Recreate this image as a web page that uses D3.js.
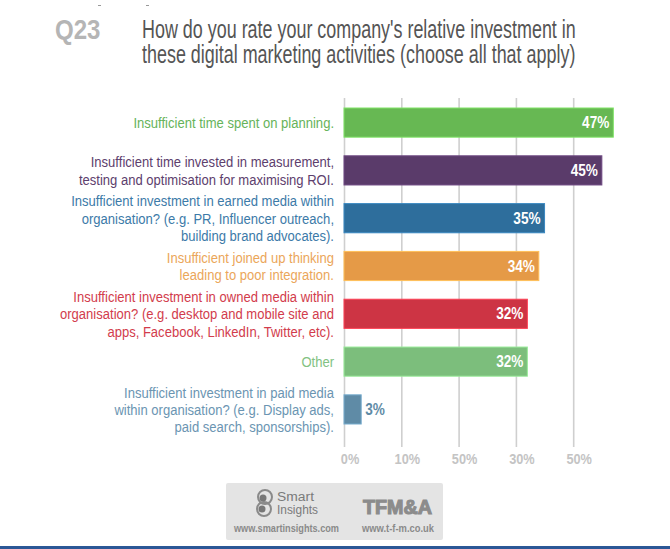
<!DOCTYPE html>
<html><head><meta charset="utf-8">
<script src="https://cdn.jsdelivr.net/npm/d3@7"></script>
<style>
html,body{margin:0;padding:0;background:#fff;}
svg{display:block;}
</style></head>
<body>
<svg id="chart" width="670" height="549"></svg>
<script>
// ---- data ----
const categories = [
  ["Insufficient time spent on planning."],
  ["Insufficient time invested in measurement,", "testing and optimisation for maximising ROI."],
  ["Insufficient investment in earned media within", "organisation? (e.g. PR, Influencer  outreach,", "building brand advocates)."],
  ["Insufficient joined up thinking", "leading to poor integration."],
  ["Insufficient investment in owned media within", "organisation? (e.g. desktop and mobile site and", "apps, Facebook, LinkedIn, Twitter, etc)."],
  ["Other"],
  ["Insufficient investment in paid media", "within organisation? (e.g. Display ads,", "paid search, sponsorships)."]
];
const values = [47, 45, 35, 34, 32, 32, 3];
const barColors = ["#67b853", "#5a3b6a", "#2e6e9c", "#e59a47", "#cd3444", "#7cbe7c", "#5f8ba6"];
const labelColors = ["#66b35a", "#5d406d", "#3c7aa8", "#eba65a", "#d23c4c", "#82c282", "#6b95b2"];
const tickValues = [0, 10, 20, 30, 40];
const tickLabels = ["0%", "10%", "50%", "30%", "50%"];
const title = ["How do you rate your company's relative investment in", "these digital marketing activities (choose all that apply)"];
const qLabel = "Q23";

// ---- drawing ----
const FONT = "'Liberation Sans',Arial,Helvetica,sans-serif";
const svg = d3.select("#chart");

const x = d3.scaleLinear().domain([0, 50]).range([344, 630.5]);
const y = d3.scaleBand().domain(d3.range(values.length)).range([108, 424]).paddingInner(0.39).paddingOuter(0);

// tiny top marks
svg.append("g").selectAll("line").data([98, 146]).join("line")
  .attr("x1", d => d).attr("x2", d => d + 3).attr("y1", 5.5).attr("y2", 5.5)
  .attr("stroke", "#999").attr("stroke-width", 1);

// title
svg.append("g").attr("transform", "translate(55,39) scale(0.86,1)")
  .append("text").attr("font-family", FONT).attr("font-weight", "bold").attr("font-size", 28)
  .attr("fill", "#b5b5b5").text(qLabel);
svg.append("g").attr("transform", "translate(142,0) scale(0.717,1)")
  .append("text").attr("font-family", FONT).attr("font-size", 25).attr("fill", "#555")
  .selectAll("tspan").data(title).join("tspan")
  .attr("x", 0).attr("y", (d, i) => 38 + i * 25).text(d => d);

// gridlines + axis
const axis = d3.axisBottom(x).tickValues(tickValues).tickFormat((d, i) => tickLabels[i]).tickSize(0).tickPadding(0);
const ag = svg.append("g").attr("transform", "translate(0,447)").call(axis);
ag.select(".domain").remove();
ag.selectAll(".tick line").attr("y1", -349).attr("y2", 0).attr("stroke", "#cfcfcf").attr("stroke-width", 1.6);
ag.selectAll(".tick text").remove();
ag.selectAll(".tick").append("g").attr("transform", "translate(5.5,17) scale(0.85,1)")
  .append("text").attr("text-anchor", "middle")
  .attr("font-family", FONT).attr("font-weight", "bold").attr("font-size", 15).attr("fill", "#c4c4c4")
  .text((d, i) => tickLabels[i]);

// bars
svg.append("g").selectAll("rect").data(values).join("rect")
  .attr("x", x(0)).attr("y", (d, i) => y(i))
  .attr("width", d => x(d) - x(0)).attr("height", y.bandwidth())
  .attr("fill", (d, i) => barColors[i])
  .attr("stroke", (d, i) => d3.color(barColors[i]).brighter(0.6))
  .attr("stroke-width", 1);

// value labels
const inside = d => (x(d) - x(0) > 40);
svg.append("g").selectAll("g").data(values).join("g")
  .attr("transform", (d, i) => `translate(${inside(d) ? x(d) - 4 : x(d) + 4},${y(i) + y.bandwidth() / 2 + 5.5}) scale(0.85,1)`)
  .append("text")
  .attr("text-anchor", d => inside(d) ? "end" : "start")
  .attr("font-family", FONT).attr("font-weight", "bold").attr("font-size", 16)
  .attr("fill", (d, i) => inside(d) ? "#fff" : barColors[i])
  .text(d => d + "%");

// category labels
const lh = 17.3;
const lg = svg.append("g").attr("transform", "translate(334,0) scale(0.87,1)");
categories.forEach((lines, i) => {
  const cy = y(i) + y.bandwidth() / 2;
  const t = lg.append("text").attr("font-family", FONT).attr("font-size", 15)
    .attr("fill", labelColors[i]).attr("text-anchor", "end");
  lines.forEach((ln, j) => {
    t.append("tspan").attr("x", 0)
      .attr("y", cy + (j - (lines.length - 1) / 2) * lh + 5.5).text(ln);
  });
});

// footer logo box
const fg = svg.append("g");
fg.append("rect").attr("x", 226).attr("y", 483).attr("width", 217).attr("height", 57).attr("rx", 2)
  .attr("fill", "#e4e4e4");
// smart insights icon
fg.append("circle").attr("cx", 265).attr("cy", 497).attr("r", 7).attr("fill", "none").attr("stroke", "#8a8a8a").attr("stroke-width", 2);
fg.append("circle").attr("cx", 264).attr("cy", 509).attr("r", 7).attr("fill", "none").attr("stroke", "#8a8a8a").attr("stroke-width", 2);
fg.append("circle").attr("cx", 263).attr("cy", 498).attr("r", 3.5).attr("fill", "#777");
fg.append("circle").attr("cx", 262).attr("cy", 509).attr("r", 3.5).attr("fill", "#777");
fg.selectAll("text.si").data(["Smart", "Insights"]).join("text").attr("class", "si")
  .attr("font-family", FONT).attr("font-size", 12).attr("fill", "#7a7a7a")
  .attr("x", 277).attr("y", (d, i) => 500.5 + i * 13).attr("textLength", (d, i) => i ? 41 : 37)
  .attr("lengthAdjust", "spacingAndGlyphs").text(d => d);
fg.append("text").attr("x", 234).attr("y", 532)
  .attr("font-family", FONT).attr("font-weight", "bold").attr("font-size", 10.5).attr("fill", "#8a8a8a")
  .attr("textLength", 105).attr("lengthAdjust", "spacingAndGlyphs")
  .text("www.smartinsights.com");
fg.append("text").attr("x", 363).attr("y", 513.5)
  .attr("font-family", FONT).attr("font-weight", "bold").attr("font-size", 21)
  .attr("stroke", "#8c8c8c").attr("stroke-width", 1.2)
  .attr("textLength", 69).attr("lengthAdjust", "spacingAndGlyphs")
  .attr("fill", "#8c8c8c").text("TFM&A");
fg.append("text").attr("x", 362).attr("y", 532)
  .attr("font-family", FONT).attr("font-weight", "bold").attr("font-size", 10.5).attr("fill", "#8a8a8a")
  .attr("textLength", 72).attr("lengthAdjust", "spacingAndGlyphs")
  .text("www.t-f-m.co.uk");

// bottom rule
svg.append("rect").attr("x", 0).attr("y", 546).attr("width", 670).attr("height", 3).attr("fill", "#2b5796");
</script>
</body></html>
